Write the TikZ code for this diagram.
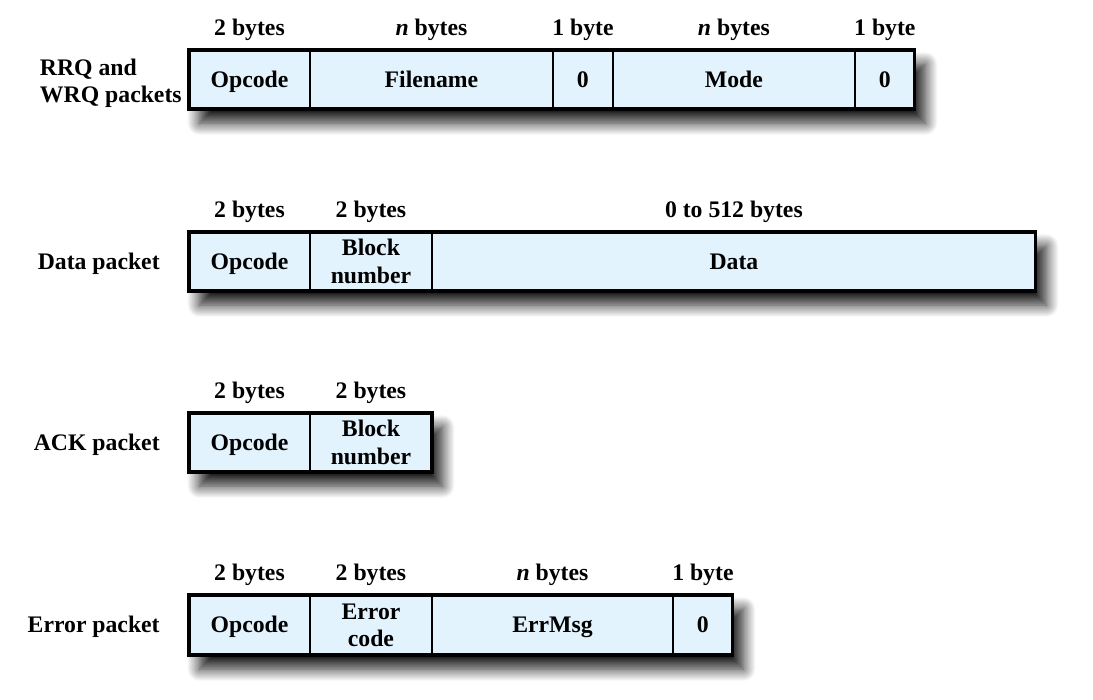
\documentclass[tikz,border=0pt]{standalone}
\usepackage{fontspec}
\setmainfont{Liberation Serif}
\usetikzlibrary{positioning,shadows.blur}

\definecolor{fieldblue}{RGB}{226,243,253}

\tikzset{
  frame/.style={draw, line width=1.8pt, fill=fieldblue, minimum height=1.18cm,
    inner sep=0pt, outer sep=0pt, anchor=north west,
    blur shadow={shadow xshift=6pt, shadow yshift=-8pt, shadow blur radius=7pt,
      shadow opacity=90, shadow blur steps=14}},
  field/.style={draw, line width=1.2pt, minimum height=1.18cm, inner sep=0pt,
    outer sep=0pt, align=center},
  word/.style={text height=2.45ex, text depth=0.55ex},
  size/.style={inner sep=2pt},
  kind/.style={inner sep=0pt, align=left}
}

\begin{document}
\begin{tikzpicture}[x=0.02cm, y=-0.02cm,
    font=\fontsize{13.5}{15.5}\selectfont\bfseries]
  \useasboundingbox (0,0) rectangle (1093,700);

  % RRQ / WRQ
  \node[frame, minimum width=14.52cm] (rrq) at (189,50) {};
  \node[field, word, minimum width=2.42cm, anchor=north west] (rrq-op) at (189,50) {Opcode};
  \node[field, word, minimum width=4.86cm, right=0pt of rrq-op] (rrq-fn) {Filename};
  \node[field, word, minimum width=1.2cm, right=0pt of rrq-fn] (rrq-z1) {0};
  \node[field, word, minimum width=4.84cm, right=0pt of rrq-z1] (rrq-md) {Mode};
  \node[field, word, minimum width=1.2cm, right=0pt of rrq-md] (rrq-z2) {0};
  \node[size, above=3pt of rrq-op] {2 bytes};
  \node[size, above=3pt of rrq-fn] {\textit{n} bytes};
  \node[size, above=3pt of rrq-z1] {1 byte};
  \node[size, above=3pt of rrq-md] {\textit{n} bytes};
  \node[size, above=3pt of rrq-z2] {1 byte};
  \node[kind, left=0.14cm of rrq-op, yshift=-2pt] {RRQ and\\WRQ packets};

  % Data
  \node[frame, minimum width=16.94cm] (data) at (189,232) {};
  \node[field, word, minimum width=2.42cm, anchor=north west] (data-op) at (189,232) {Opcode};
  \node[field, minimum width=2.44cm, right=0pt of data-op] (data-bn) {Block\\number};
  \node[field, word, minimum width=12.08cm, right=0pt of data-bn] (data-dt) {Data};
  \node[size, above=3pt of data-op] {2 bytes};
  \node[size, above=3pt of data-bn] {2 bytes};
  \node[size, above=3pt of data-dt] {0 to 512 bytes};
  \node[kind, word, left=0.58cm of data-op] {Data packet};

  % ACK
  \node[frame, minimum width=4.86cm] (ack) at (189,413) {};
  \node[field, word, minimum width=2.42cm, anchor=north west] (ack-op) at (189,413) {Opcode};
  \node[field, minimum width=2.44cm, right=0pt of ack-op] (ack-bn) {Block\\number};
  \node[size, above=3pt of ack-op] {2 bytes};
  \node[size, above=3pt of ack-bn] {2 bytes};
  \node[kind, word, left=0.58cm of ack-op] {ACK packet};

  % Error
  \node[frame, minimum width=10.88cm, minimum height=1.2cm] (err) at (189,595) {};
  \node[field, word, minimum width=2.42cm, minimum height=1.2cm, anchor=north west] (err-op) at (189,595) {Opcode};
  \node[field, minimum width=2.44cm, minimum height=1.2cm, right=0pt of err-op] (err-ec) {Error\\code};
  \node[field, word, minimum width=4.82cm, minimum height=1.2cm, right=0pt of err-ec] (err-em) {ErrMsg};
  \node[field, word, minimum width=1.2cm, minimum height=1.2cm, right=0pt of err-em] (err-z) {0};
  \node[size, above=3pt of err-op] {2 bytes};
  \node[size, above=3pt of err-ec] {2 bytes};
  \node[size, above=3pt of err-em] {\textit{n} bytes};
  \node[size, above=3pt of err-z] {1 byte};
  \node[kind, word, left=0.58cm of err-op] {Error packet};
\end{tikzpicture}
\end{document}
